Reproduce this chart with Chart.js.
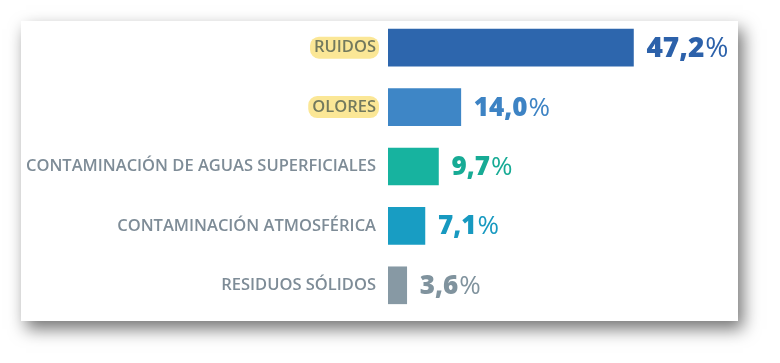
<!DOCTYPE html>
<html><head><meta charset="utf-8">
<script src="https://cdn.jsdelivr.net/npm/chart.js@4"></script>
<style>
html,body{margin:0;padding:0;background:#fff;width:780px;height:363px;overflow:hidden;}
#panel{position:absolute;left:21px;top:21px;width:717px;height:300px;background:#fff;box-shadow:5px 8px 16px rgba(0,0,0,0.55);}
#wrap{position:absolute;left:0;top:0;width:780px;height:363px;}
</style></head><body>
<div id="panel"></div>
<div id="wrap"><canvas id="c" width="780" height="363"></canvas></div>
<script>
const categories = ["RUIDOS","OLORES","CONTAMINACIÓN DE AGUAS SUPERFICIALES","CONTAMINACIÓN ATMOSFÉRICA","RESIDUOS SÓLIDOS"];
const values = [47.2, 14.0, 9.7, 7.1, 3.6];
const valueLabels = ["47,2","14,0","9,7","7,1","3,6"];
const highlighted = [true, true, false, false, false];
const barColors = ["#2d66ad","#3e86c6","#17b39f","#189dc3","#8799a4"];
const textColors = ["#2c61aa","#3d83c4","#17ab95","#1799c0","#80939e"];
const valueSizes = [28, 26, 26, 26, 26];

const FONT = "'Open Sans', 'Noto Sans', sans-serif";

const pillPlugin = {
  id: 'pills',
  beforeDraw(chart) {
    const ctx = chart.ctx, ys = chart.scales.y;
    ctx.save();
    ctx.font = "600 16.5px " + FONT;
    categories.forEach((c, i) => {
      if (!highlighted[i]) return;
      const y = ys.getPixelForTick(i);
      const right = ys.right - 12;
      const w = ctx.measureText(c).width;
      const x0 = right - w - 4, x1 = right + 3, h = 22;
      ctx.fillStyle = "#fbe796";
      ctx.beginPath();
      ctx.roundRect(x0, y - h/2, x1 - x0, h, 9);
      ctx.fill();
    });
    ctx.restore();
  }
};

const valuePlugin = {
  id: 'vals',
  afterDatasetsDraw(chart) {
    const ctx = chart.ctx, meta = chart.getDatasetMeta(0);
    ctx.save();
    ctx.textBaseline = 'middle';
    ctx.textAlign = 'left';
    meta.data.forEach((bar, i) => {
      let x = bar.x + 13, y = bar.y + 1;
      ctx.fillStyle = textColors[i];
      ctx.font = "800 " + valueSizes[i] + "px " + FONT;
      ctx.fillText(valueLabels[i], x, y);
      x += ctx.measureText(valueLabels[i]).width + 1;
      ctx.font = "400 " + valueSizes[i] + "px " + FONT;
      ctx.fillText("%", x, y);
    });
    ctx.restore();
  }
};

new Chart(document.getElementById('c'), {
  type: 'bar',
  data: {
    labels: categories,
    datasets: [{
      data: values,
      backgroundColor: barColors,
      borderWidth: 0,
      barThickness: 37
    }]
  },
  options: {
    indexAxis: 'y',
    responsive: false,
    animation: false,
    events: [],
    layout: { padding: { left: 0, right: 80, top: 18, bottom: 48 } },
    plugins: { legend: { display: false }, tooltip: { enabled: false } },
    scales: {
      x: { display: false, min: 0, max: 60, grid: { display: false } },
      y: {
        grid: { display: false, drawTicks: false },
        border: { display: false },
        afterFit(s) { s.width = 388; s.paddingTop = 0; s.paddingBottom = 0; },
        ticks: {
          padding: 12,
          font: { family: FONT, size: 16.5, weight: '600' },
          color: (ctx) => highlighted[ctx.index] ? "#737a5e" : "#7e8c97"
        }
      }
    }
  },
  plugins: [pillPlugin, valuePlugin]
});
</script>
</body></html>
